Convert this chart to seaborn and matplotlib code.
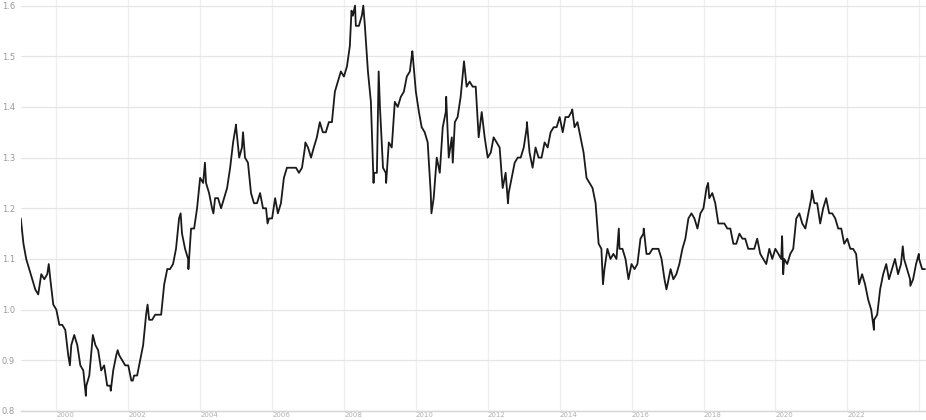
import matplotlib
matplotlib.use("Agg")
import matplotlib.pyplot as plt
import seaborn as sns
import pandas as pd

# month-end levels, Jan 1999 .. Feb 2024
month_end_rates = [
    1.13, 1.10, 1.08, 1.06, 1.04, 1.03, 1.07, 1.06, 1.07, 1.06, 1.01, 1.00,  # 1999
    0.97, 0.97, 0.96, 0.91, 0.93, 0.95, 0.93, 0.89, 0.88, 0.85, 0.87, 0.94,  # 2000
    0.93, 0.92, 0.88, 0.89, 0.85, 0.85, 0.88, 0.91, 0.91, 0.90, 0.89, 0.89,  # 2001
    0.86, 0.87, 0.87, 0.90, 0.93, 0.99, 0.98, 0.98, 0.99, 0.99, 0.99, 1.05,  # 2002
    1.08, 1.08, 1.09, 1.12, 1.18, 1.15, 1.12, 1.10, 1.16, 1.16, 1.20, 1.26,  # 2003
    1.25, 1.25, 1.23, 1.20, 1.22, 1.22, 1.20, 1.22, 1.24, 1.28, 1.33, 1.36,  # 2004
    1.30, 1.32, 1.30, 1.29, 1.23, 1.21, 1.21, 1.23, 1.20, 1.20, 1.18, 1.18,  # 2005
    1.22, 1.19, 1.21, 1.26, 1.28, 1.28, 1.28, 1.28, 1.27, 1.28, 1.32, 1.32,  # 2006
    1.30, 1.32, 1.34, 1.37, 1.35, 1.35, 1.37, 1.37, 1.43, 1.45, 1.47, 1.46,  # 2007
    1.48, 1.52, 1.58, 1.56, 1.56, 1.58, 1.56, 1.47, 1.41, 1.27, 1.27, 1.40,  # 2008
    1.28, 1.27, 1.33, 1.32, 1.41, 1.40, 1.42, 1.43, 1.46, 1.47, 1.50, 1.43,  # 2009
    1.39, 1.36, 1.35, 1.33, 1.23, 1.22, 1.30, 1.27, 1.36, 1.39, 1.30, 1.34,  # 2010
    1.37, 1.38, 1.42, 1.48, 1.44, 1.45, 1.44, 1.44, 1.34, 1.39, 1.34, 1.30,  # 2011
    1.31, 1.34, 1.33, 1.32, 1.24, 1.27, 1.23, 1.26, 1.29, 1.30, 1.30, 1.32,  # 2012
    1.36, 1.31, 1.28, 1.32, 1.30, 1.30, 1.33, 1.32, 1.35, 1.36, 1.36, 1.38,  # 2013
    1.35, 1.38, 1.38, 1.39, 1.36, 1.37, 1.34, 1.31, 1.26, 1.25, 1.24, 1.21,  # 2014
    1.13, 1.12, 1.08, 1.12, 1.10, 1.11, 1.10, 1.12, 1.12, 1.10, 1.06, 1.09,  # 2015
    1.08, 1.09, 1.14, 1.15, 1.11, 1.11, 1.12, 1.12, 1.12, 1.10, 1.06, 1.05,  # 2016
    1.08, 1.06, 1.07, 1.09, 1.12, 1.14, 1.18, 1.19, 1.18, 1.16, 1.19, 1.20,  # 2017
    1.24, 1.22, 1.23, 1.21, 1.17, 1.17, 1.17, 1.16, 1.16, 1.13, 1.13, 1.15,  # 2018
    1.14, 1.14, 1.12, 1.12, 1.12, 1.14, 1.11, 1.10, 1.09, 1.12, 1.10, 1.12,  # 2019
    1.11, 1.10, 1.10, 1.09, 1.11, 1.12, 1.18, 1.19, 1.17, 1.16, 1.19, 1.22,  # 2020
    1.21, 1.21, 1.17, 1.20, 1.22, 1.19, 1.19, 1.18, 1.16, 1.16, 1.13, 1.14,  # 2021
    1.12, 1.12, 1.11, 1.05, 1.07, 1.05, 1.02, 1.00, 0.98, 0.99, 1.04, 1.07,  # 2022
    1.09, 1.06, 1.08, 1.10, 1.07, 1.09, 1.10, 1.08, 1.06, 1.06, 1.09, 1.10,  # 2023
    1.08, 1.08,                                                              # 2024
]

# intra-month highs and lows visible as spikes
spike_dates = [
    "1999-01-04", "1999-10-15", "2000-05-17", "2000-10-26", "2001-01-05",
    "2001-07-06", "2001-09-14", "2002-02-15", "2002-07-15", "2003-06-16",
    "2003-09-03", "2004-02-18", "2004-05-14", "2004-12-30", "2005-03-11",
    "2005-11-15", "2006-12-04", "2008-03-17", "2008-04-22", "2008-07-15",
    "2008-10-27", "2008-12-18", "2009-03-04", "2009-11-25", "2010-06-07",
    "2010-11-04", "2011-01-10", "2011-05-04", "2012-07-24", "2013-02-01",
    "2014-05-08", "2015-03-16", "2015-08-24", "2016-05-03", "2016-12-20",
    "2018-02-16", "2020-03-09", "2020-03-20", "2021-01-06", "2022-09-28",
    "2023-07-18", "2023-10-03", "2023-12-28",
]
spike_rates = [
    1.18, 1.09, 0.89, 0.83, 0.95,
    0.84, 0.92, 0.86, 1.01, 1.19,
    1.08, 1.29, 1.19, 1.365, 1.35,
    1.17, 1.33, 1.59, 1.60, 1.60,
    1.25, 1.47, 1.25, 1.51, 1.19,
    1.42, 1.29, 1.49, 1.21, 1.37,
    1.395, 1.05, 1.16, 1.16, 1.04,
    1.25, 1.145, 1.07, 1.235, 0.96,
    1.125, 1.047, 1.11,
]

year_ticks = list(range(2000, 2025, 2))
year_labels = [str(y) for y in range(2000, 2023, 2)] + [""]
y_ticks = [0.8, 0.9, 1.0, 1.1, 1.2, 1.3, 1.4, 1.5, 1.6]

month_ends = pd.date_range("1999-01-31", periods=len(month_end_rates), freq="ME")
df = pd.concat([
    pd.DataFrame({"date": month_ends, "rate": month_end_rates}),
    pd.DataFrame({"date": pd.to_datetime(spike_dates), "rate": spike_rates}),
]).sort_values("date").reset_index(drop=True)

sns.set_style("white")
fig = plt.figure(figsize=(9.26, 4.2), dpi=100)
ax = fig.add_axes([20.5 / 926, 9 / 420, 1 - 20.5 / 926, 411 / 420])

sns.lineplot(data=df, x="date", y="rate", ax=ax, color="#1a1a1a",
             linewidth=1.3, estimator=None)

ax.set_xlim(pd.Timestamp("1999-01-01"), pd.Timestamp("2024-03-10"))
ax.set_ylim(0.8, 1.611)

ax.set_xticks([pd.Timestamp(f"{y}-01-01") for y in year_ticks])
ax.set_xticklabels(year_labels, ha="left")
ax.set_yticks(y_ticks)
ax.set_yticklabels([f"{v:.1f}" for v in y_ticks])

ax.grid(True, axis="y", color="#e6e6e6", linewidth=0.9)
ax.grid(True, axis="x", color="#efefef", linewidth=0.9)
ax.set_axisbelow(True)
for s in ["top", "right", "left"]:
    ax.spines[s].set_visible(False)
ax.spines["bottom"].set_color("#d6d6d6")
ax.spines["bottom"].set_linewidth(1.0)

ax.tick_params(axis="y", length=0, pad=4, labelsize=6, labelcolor="#9a9a9a")
ax.tick_params(axis="x", length=0, pad=0.5, labelsize=5, labelcolor="#b0b0b0")
ax.set_xlabel("")
ax.set_ylabel("")

fig.savefig("out.png", dpi=100)
